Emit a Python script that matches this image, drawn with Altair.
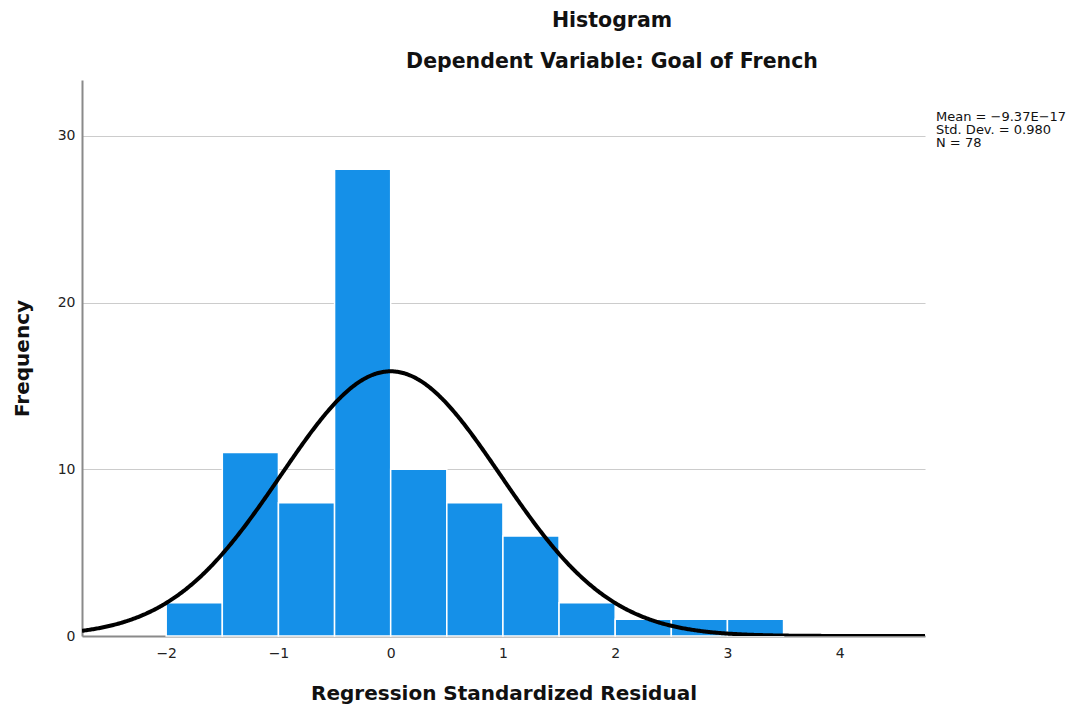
import altair as alt
import pandas as pd

# Histogram bins (width 0.5) and counts
bin_start = [-2.0, -1.5, -1.0, -0.5, 0.0, 0.5, 1.0, 1.5, 2.0, 2.5, 3.0]
bin_end = [-1.5, -1.0, -0.5, 0.0, 0.5, 1.0, 1.5, 2.0, 2.5, 3.0, 3.5]
counts = [2, 11, 8, 28, 10, 8, 6, 2, 1, 1, 1]

# Stated statistics
mean_val = -9.37e-17
sd_val = 0.980
n_val = 78
bin_width = 0.5

stats_lines = ["Mean = −9.37E−17", "Std. Dev. = 0.980", "N = 78"]
title_lines = ["Histogram", "Dependent Variable: Goal of French"]

x_domain = [-2.75, 4.76]
y_domain = [0, 33.35]

bars_df = pd.DataFrame({"start": bin_start, "end": bin_end, "count": counts,
                        "base": [0] * len(counts)})

FONT = "DejaVu Sans"
W, H = 843, 556

x_scale = alt.Scale(domain=x_domain, nice=False, zero=False)
y_scale = alt.Scale(domain=y_domain, nice=False)

bars = alt.Chart(bars_df).mark_bar(
    color="#1590E8", stroke="white", strokeWidth=1.5
).encode(
    x=alt.X("start:Q", scale=x_scale,
            axis=alt.Axis(values=[-2, -1, 0, 1, 2, 3, 4], format="d",
                          title="Regression Standardized Residual",
                          grid=False, ticks=False, labelPadding=10, titlePadding=23,
                          labelFontSize=14, labelFont=FONT, labelColor="#222",
                          titleFontSize=20, titleFont=FONT, titleFontWeight="bold",
                          titleColor="#111", domainColor="#8a8a8a", domainWidth=2)),
    x2="end:Q",
    y=alt.Y("count:Q", scale=y_scale,
            axis=alt.Axis(values=[0, 10, 20, 30], title="Frequency", grid=True,
                          gridColor="#cccccc", gridWidth=1.2, ticks=False,
                          labelPadding=7, titlePadding=25,
                          labelFontSize=14, labelFont=FONT, labelColor="#222",
                          titleFontSize=20, titleFont=FONT, titleFontWeight="bold",
                          titleColor="#111", domainColor="#8a8a8a", domainWidth=2)),
    y2="base:Q",
)

curve = alt.Chart(alt.sequence(x_domain[0], x_domain[1] + 0.005, 0.01, as_="x")).transform_calculate(
    y=f"{n_val} * {bin_width} * exp(-0.5 * pow((datum.x - ({mean_val})) / {sd_val}, 2)) / ({sd_val} * sqrt(2 * PI))"
).mark_line(color="black", strokeWidth=4, clip=True).encode(
    x=alt.X("x:Q", scale=x_scale),
    y=alt.Y("y:Q", scale=y_scale),
)

layers = [bars, curve]

title_y = [-59, -18]
for line, yy in zip(title_lines, title_y):
    layers.append(
        alt.Chart(pd.DataFrame({"t": [line]})).mark_text(
            font=FONT, fontSize=20.5, fontWeight="bold", color="#111",
            align="center", baseline="middle"
        ).encode(text="t:N", x=alt.value(530), y=alt.value(yy))
    )

stats_y = [37, 50, 63]
for line, yy in zip(stats_lines, stats_y):
    layers.append(
        alt.Chart(pd.DataFrame({"t": [line]})).mark_text(
            font=FONT, fontSize=13, color="#111", align="left", baseline="middle"
        ).encode(text="t:N", x=alt.value(854), y=alt.value(yy))
    )

chart = alt.layer(*layers).properties(
    width=W, height=H,
    background="white",
    autosize=alt.AutoSizeParams(type="none"),
    padding={"left": 74, "top": 72, "right": 155, "bottom": 69},
).configure_view(stroke=None)

chart.save("out.html", embed_options={"renderer": "svg", "actions": False})
